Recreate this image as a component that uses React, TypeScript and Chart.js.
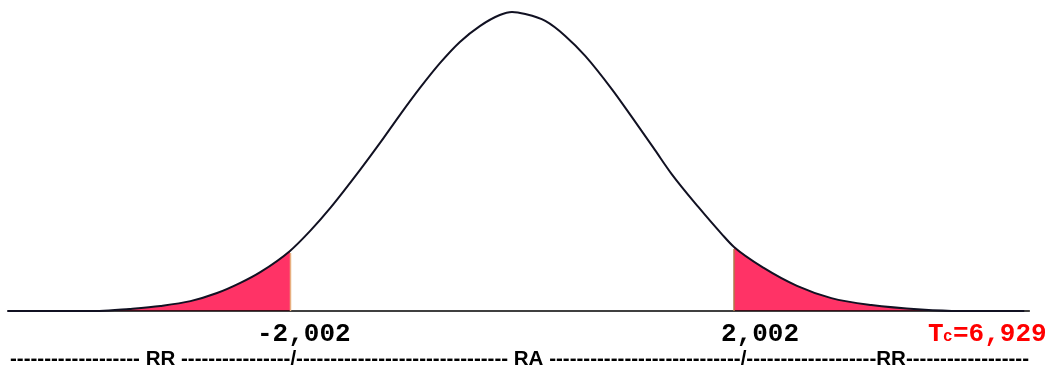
import React, { useEffect, useRef } from "react";
import { Chart, registerables } from "chart.js";

Chart.register(...registerables);

// t-values along the horizontal axis and relative density (peak = 1)
const curveX = [-4.55, -3.72, -3.45, -3.17, -2.9, -2.66, -2.45, -2.27, -2.002, -1.82, -1.64, -1.37, -1.19, -1.01, -0.83, -0.65, -0.47, -0.29, -0.11, 0, 0.12, 0.3, 0.48, 0.66, 0.9, 1.08, 1.29, 1.44, 1.68, 1.89, 2.002, 2.27, 2.57, 2.88, 3.24, 3.69, 4.04, 4.62];
const curveY = [0, 0, 0.007, 0.017, 0.033, 0.06, 0.094, 0.13, 0.201, 0.268, 0.344, 0.472, 0.562, 0.656, 0.746, 0.829, 0.9, 0.953, 0.99, 1.0, 0.993, 0.97, 0.92, 0.853, 0.742, 0.649, 0.538, 0.458, 0.348, 0.258, 0.214, 0.144, 0.084, 0.043, 0.02, 0.005, 0, 0];
const baselineX = [-4.55, 4.67];
const criticalValues = [-2.002, 2.002];
const criticalLabels = ["-2,002", "2,002"];
const tcLabel = "6,929";
const regionText =
  "-".repeat(19) + " RR " + "-".repeat(16) + "/" + "-".repeat(31) + " RA " + "-".repeat(28) + "/" + "-".repeat(19) + "RR" + "-".repeat(18);

const PINK = "#ff3366";

export default function App() {
  const ref = useRef<HTMLCanvasElement | null>(null);

  useEffect(() => {
    document.body.style.margin = "0";
    const canvas = ref.current;
    if (!canvas) return;

    const curve = curveX.map((x, i) => ({ x, y: curveY[i] }));
    const leftTail = curve.filter((p) => p.x <= criticalValues[0] + 1e-9);
    const rightTail = curve.filter((p) => p.x >= criticalValues[1] - 1e-9);
    const base = baselineX.map((x) => ({ x, y: 0 }));

    const labelsPlugin = {
      id: "labels",
      afterDraw(chart: any) {
        const ctx = chart.ctx as CanvasRenderingContext2D;
        const xs = chart.scales.x;
        const ys = chart.scales.y;
        ctx.save();
        const edgeCols = ["#e8b080", "#b07848"];
        criticalValues.forEach((v, i) => {
          const px = xs.getPixelForValue(v);
          const idx = curveX.indexOf(v);
          ctx.strokeStyle = edgeCols[i];
          ctx.lineWidth = 1.5;
          ctx.beginPath();
          ctx.moveTo(px + (i === 0 ? 0.5 : 0), ys.getPixelForValue(0));
          ctx.lineTo(px + (i === 0 ? 0.5 : 0), ys.getPixelForValue(curveY[idx]) + 2);
          ctx.stroke();
        });
        ctx.fillStyle = "#000";
        ctx.font = 'bold 26px "Liberation Mono", "Courier New", monospace';
        ctx.textBaseline = "alphabetic";
        ctx.textAlign = "left";
        const offsets = [-33, -13];
        criticalValues.forEach((v, i) => {
          const px = xs.getPixelForValue(v);
          ctx.fillText(criticalLabels[i], px + offsets[i], 341);
        });
        ctx.fillStyle = "#ff0000";
        ctx.fillText("T", 928, 341);
        ctx.font = 'bold 16px "Liberation Mono", "Courier New", monospace';
        ctx.fillText("c", 943, 341);
        ctx.font = 'bold 26px "Liberation Mono", "Courier New", monospace';
        ctx.fillText("=" + tcLabel, 953, 341);
        ctx.fillStyle = "#000";
        ctx.font = 'bold 20px "Liberation Sans", Arial, sans-serif';
        const w = ctx.measureText(regionText).width;
        ctx.translate(10, 365);
        ctx.scale(1019 / w, 1);
        ctx.fillText(regionText, 0, 0);
        ctx.restore();
      },
    };

    const chart = new Chart(canvas, {
      type: "line",
      data: {
        datasets: [
          {
            data: curve,
            borderColor: "#111122",
            borderWidth: 2,
            pointRadius: 0,
            cubicInterpolationMode: "monotone",
            fill: false,
          },
          {
            data: base,
            borderColor: "#000",
            borderWidth: 1.5,
            pointRadius: 0,
            fill: false,
          },
          {
            data: leftTail,
            borderWidth: 0,
            borderColor: PINK,
            backgroundColor: PINK,
            pointRadius: 0,
            cubicInterpolationMode: "monotone",
            fill: "origin",
          },
          {
            data: rightTail,
            borderWidth: 0,
            borderColor: PINK,
            backgroundColor: PINK,
            pointRadius: 0,
            cubicInterpolationMode: "monotone",
            fill: "origin",
          },
        ],
      },
      options: {
        animation: false,
        responsive: false,
        parsing: false as any,
        layout: { padding: 0 },
        plugins: { legend: { display: false }, tooltip: { enabled: false } },
        scales: {
          x: { type: "linear", min: -512 / 110.89, max: 542 / 110.89, display: false },
          y: { type: "linear", min: -60 / 299, max: 311 / 299, display: false },
        },
      },
      plugins: [labelsPlugin],
    });
    return () => chart.destroy();
  }, []);

  return (
    <div style={{ width: 1054, height: 371, background: "#fff" }}>
      <canvas ref={ref} width={1054} height={371} style={{ display: "block" }} />
    </div>
  );
}
